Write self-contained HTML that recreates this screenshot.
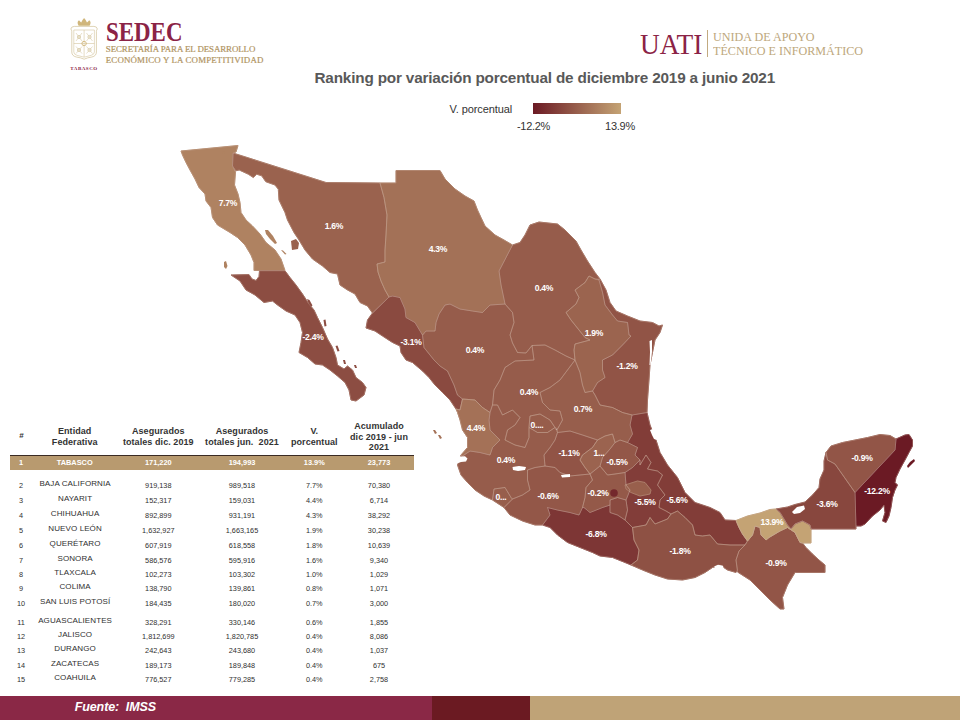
<!DOCTYPE html>
<html lang="es"><head><meta charset="utf-8"><title>Ranking por variación porcentual</title>
<style>
html,body{margin:0;padding:0;background:#fff;}
body{width:960px;height:720px;position:relative;overflow:hidden;font-family:"Liberation Sans",sans-serif;}
.map{position:absolute;left:0;top:0;}
.title{position:absolute;left:314.5px;top:68.7px;font-weight:bold;font-size:15.3px;line-height:18px;color:#595959;white-space:nowrap;letter-spacing:-0.18px;}
.c{position:absolute;width:120px;text-align:center;white-space:nowrap;color:#303030;font-size:7.3px;line-height:12px;height:12px;}
.c.h{font-weight:bold;font-size:9px;color:#333;line-height:10.3px;letter-spacing:0.07px;}
.c.h2{margin-top:-4.6px;}
.c.hh{font-size:8px;}
.c.h3{margin-top:-10.6px;line-height:10.6px;}
.c.g{color:#fff;font-weight:bold;font-size:7.4px;}
.c.nm{font-size:8px;letter-spacing:0.1px;}
.hl{position:absolute;left:10px;top:454.5px;width:404px;height:1.2px;background:#3a2a22;}
.gold{position:absolute;left:10px;top:455.7px;width:404px;height:14px;background:#b89a6f;}
.foot{position:absolute;left:0;top:696px;height:24px;}
.f1{width:432px;background:#8a2846;}
.f2{left:432px;width:98px;background:#6b1a22;}
.f3{left:530px;width:430px;background:#bfa377;}
.fuente{position:absolute;left:74.7px;top:699px;color:#fff;font-weight:bold;font-style:italic;font-size:12.5px;line-height:16px;white-space:pre;letter-spacing:-0.1px;}
.sedec{position:absolute;left:105.8px;top:16.5px;font-family:"Liberation Serif",serif;font-weight:bold;font-size:27px;line-height:30px;color:#8b2346;transform:scaleX(0.849);transform-origin:0 0;}
.sedsub{position:absolute;left:105.8px;top:43.6px;font-family:"Liberation Serif",serif;font-size:8.9px;line-height:11.1px;color:#b0945f;-webkit-text-stroke:0.2px #b0945f;white-space:nowrap;}
.sedsub .a{letter-spacing:-0.078px;} .sedsub .b{letter-spacing:0.148px;}
.tab{position:absolute;left:70.3px;top:65.7px;font-family:"Liberation Serif",serif;font-weight:bold;font-size:5px;line-height:6px;color:#8b2346;letter-spacing:0.51px;white-space:nowrap;}
.uati{position:absolute;left:640.4px;top:27.35px;font-family:"Liberation Serif",serif;font-size:29.5px;line-height:34px;color:#8b2346;white-space:nowrap;transform:scaleX(0.928);transform-origin:0 0;}
.uline{position:absolute;left:707px;top:29.8px;width:1px;height:27.5px;background:#c2aa80;}
.usub{position:absolute;left:713.3px;top:29.86px;font-family:"Liberation Serif",serif;font-size:13.3px;line-height:14.3px;color:#bda77c;white-space:nowrap;transform:scaleX(0.911);transform-origin:0 0;}
</style></head><body>
<svg class="map" width="960" height="720" viewBox="0 0 960 720">
<defs><linearGradient id="lg" x1="0" x2="1" y1="0" y2="0"><stop offset="0" stop-color="#6b1a24"/><stop offset="1" stop-color="#c4a374"/></linearGradient></defs>
<g stroke-linejoin="round">
<polygon points="181,151 238,145.5 236,152 233,153 232.5,166 235.5,172 234.5,185 238,194 240,202.5 241,212.5 246,220 252.5,226 260,234 266,242.5 275,250 281,259 285,270.5 254,270.5 254,262.5 251,255 245,245 237.5,237.5 230,232.5 217.5,225 212.5,217.5 211,207.5 206,201 205,194 199,187.5 195,179 190,170 186,162.5 182.5,155" fill="#af8261" stroke="#af8261" stroke-width="1"/>
<polygon points="233,153 326,182.5 380,183 384,197.5 387,215 386,235 385,250 385,262 377,264 378,272 381,281 385,290 389,297 372.5,313 367.5,306 360,302.5 355,294 347.5,290 340,285 337.5,274 330,272.5 322.5,266 312.5,259 305,250 299,240 294,232.5 287.5,220 285,212.5 279,200 278.3,189.2 275,185 265.8,181.7 261.7,175.8 256.7,174.2 253.3,177.5 248.3,174.2 239.2,170 235.8,170.8 232.5,166" fill="#9a624e" stroke="#9a624e" stroke-width="1"/>
<polygon points="396,170.5 440,170.5 445,179 455,189 465,196 474,201 477.5,210 481,217.5 485,226 495,235 504,240 512.5,245 506,257.5 499,271 501,285 505,304 490,305 482.5,312.5 472.5,311 460,309 450,304 445,305 439,314 436,322.5 435,331 426,331 422.5,335 415,322.5 406,317.5 405,309 400,297.5 392.5,296 389,297 385,290 381,281 378,272 377,264 385,262 385,250 386,235 387,215 384,197.5 380,183 396,183" fill="#a37157" stroke="#a37157" stroke-width="1"/>
<polygon points="512.5,245 520,242.5 525,235 530,225 539,222 557.5,224 565,230 576,241 581,250 587.5,261 595,272.5 600,279 595,279 589,276 585,282.5 575,290 579,297.5 576,304 566,312.5 571,320 579,330 585,337.5 590,340 575,344 574,350 575,360 566,356 555,350 545,345 532,345.5 526,353 517.5,352.5 512.5,343 510,335 514,322.5 512.5,312.5 505,304 501,285 499,271 506,257.5" fill="#965c4b" stroke="#965c4b" stroke-width="1"/>
<polygon points="589,276 595,279 599,280 602.5,292.5 605,305 612.5,315 617.5,321 627.5,322.5 629,335 631,336 622.5,345 612.5,355 602.5,360 602.5,370 605,377.5 597.5,382.5 592.5,391 585,392.5 582.5,385 580,372.5 575,360 574,350 575,344 590,340 585,337.5 579,330 571,320 566,312.5 576,304 579,297.5 575,290 585,282.5" fill="#9b644f" stroke="#9b644f" stroke-width="1"/>
<polygon points="599,280 600,279 606,290 610,302.5 616,311 627.5,316 640,321 652.5,322.5 659,326 662.5,325 660,332.5 655,340 652.5,352.5 650,365 649,380 647.5,400 647,412.5 632,415 622.5,412.5 612.5,407.5 600,405 595,395 592.5,391 597.5,382.5 605,377.5 602.5,370 602.5,360 612.5,355 622.5,345 631,336 629,335 627.5,322.5 617.5,321 612.5,315 605,305 602.5,292.5" fill="#915446" stroke="#915446" stroke-width="1"/>
<polygon points="575,360 580,372.5 582.5,385 585,392.5 592.5,391 595,395 600,405 612.5,407.5 622.5,412.5 632,415 630,425 632.5,434 627.5,442.5 620,440 615,442.5 612.5,434 605,436 597.5,440 582.5,435 570,431 557.5,432.5 557.5,429 562.5,420 560,411 550,410 542.5,402.5 540,392.5 550,387.5 560,380 567.5,370" fill="#975e4c" stroke="#975e4c" stroke-width="1"/>
<polygon points="534,360 532,345.5 545,345 555,350 566,356 575,360 567.5,370 560,380 550,387.5 540,392.5 542.5,402.5 550,410 560,411 562.5,420 557.5,429 555,427.5 550,420 540,414 530,416 529,427.5 529,437.5 525,447.5 515,445 505,440 507.5,430 515,425 520,417.5 512.5,410 502.5,415 497.5,405 492.5,405 494,390 500,380 505,367.5 515,361" fill="#965c4b" stroke="#965c4b" stroke-width="1"/>
<polygon points="422.5,335 426,331 435,331 436,322.5 439,314 445,305 450,304 460,309 472.5,311 482.5,312.5 490,305 505,304 512.5,312.5 514,322.5 510,335 512.5,343 517.5,352.5 526,353 532,345.5 534,360 515,361 505,367.5 500,380 494,390 492.5,405 490,412.5 482.5,407.5 475,400 462.5,399 457.5,395 454,385 447.5,371 440,366 434,360 424,347.5" fill="#965c4b" stroke="#965c4b" stroke-width="1"/>
<polygon points="372.5,313 389,297 392.5,296 400,297.5 405,309 406,317.5 415,322.5 422.5,335 424,347.5 434,360 440,366 447.5,371 454,385 457.5,395 462.5,399 460,410 456,409 450,400 442.5,392.5 435,385 429,377.5 422.5,371 412.5,362.5 406,360 401,352.5 400,346 392.5,342.5 382.5,336 375,331 366,328 367.5,320" fill="#8a4a40" stroke="#8a4a40" stroke-width="1"/>
<polygon points="456,409 460,410 462.5,399 475,400 482.5,407.5 490,412.5 489,420 490,430 495,435 500,440 492.5,447.5 490,455 480,452.5 470,451 462.5,456 461,455 467.5,447.5 467.5,437.5 462.5,430 460,420 457.5,412.5" fill="#a47157" stroke="#a47157" stroke-width="1"/>
<polygon points="461,455 462.5,456 470,451 480,452.5 490,455 492.5,447.5 500,440 495,435 490,430 489,420 490,412.5 492.5,405 497.5,405 502.5,415 512.5,410 520,417.5 515,425 507.5,430 505,440 515,445 525,447.5 529,437.5 529,427.5 537.5,432.5 547.5,432.5 555,427.5 557.5,432.5 555,440 550,447.5 544,455 545,466 535,467.5 527.5,470 527.5,480 530,490 522.5,495 512.5,499 511,497.5 505,487.5 494,489 492.5,500 484,496 475,490 467.5,482.5 461,475 457.5,465" fill="#965c4b" stroke="#965c4b" stroke-width="1"/>
<polygon points="530,416 540,414 550,420 555,427.5 547.5,432.5 537.5,432.5 529,427.5" fill="#975d4b" stroke="#975d4b" stroke-width="1"/>
<polygon points="492.5,500 494,489 505,487.5 511,497.5 512.5,499 504,507.5" fill="#975e4c" stroke="#975e4c" stroke-width="1"/>
<polygon points="504,507.5 512.5,499 522.5,495 530,490 527.5,480 527.5,470 535,467.5 545,466 555,467.5 560,472.5 570,476 580,475 590,474 592.5,480 586,487.5 585,497.5 582.5,507.5 579,515 570,512.5 557.5,510 547.5,507.5 550,515 542.5,525 535,525 522.5,521 510,515" fill="#935748" stroke="#935748" stroke-width="1"/>
<polygon points="557.5,432.5 570,431 582.5,435 597.5,440 592.5,447.5 582.5,455 580,460 585,467.5 590,474 580,475 570,476 560,472.5 555,467.5 545,466 544,455 550,447.5 555,440" fill="#915446" stroke="#915446" stroke-width="1"/>
<polygon points="597.5,440 605,436 612.5,434 615,442.5 610,449 602.5,457.5 600,466 590,474 585,467.5 580,460 582.5,455 592.5,447.5" fill="#9b634f" stroke="#9b634f" stroke-width="1"/>
<polygon points="615,442.5 620,440 627.5,442.5 632.5,445 637.5,447.5 635,455 640,460 632.5,467.5 625,472.5 615,474 607.5,475 600,466 602.5,457.5 610,449" fill="#935748" stroke="#935748" stroke-width="1"/>
<polygon points="590,474 600,466 607.5,475 615,474 625,472.5 626,485 630,490 626,500 617.5,497.5 610,500 610,505 602.5,507.5 590,512.5 584,507.5 582.5,507.5 585,497.5 586,487.5 592.5,480" fill="#945949" stroke="#945949" stroke-width="1"/>
<polygon points="610,500 617.5,497.5 626,500 627.5,510 625,520 617.5,515 610,512.5 610,505" fill="#8a4a40" stroke="#8a4a40" stroke-width="1"/>
<polygon points="632.5,467.5 640,460 640,465 646,455 651,462.5 647.5,469 657.5,471 662.5,475 657.5,485 665,495 660,500 659,507.5 666,511 671,514 667.5,519 655,524 650,517.5 646,525 632.5,527.5 625,520 627.5,510 626,500 630,490 626,485 625,472.5" fill="#823d39" stroke="#823d39" stroke-width="1"/>
<polygon points="625,485 637.5,481 645,482.5 651,490 650,494 640,496 631,492.5 626,489" fill="#985f4c" stroke="#985f4c" stroke-width="1"/>
<polygon points="632,415 647,412.5 650,425 656,440 660,452.5 667.5,465 677.5,477.5 685,492.5 695,502.5 710,507.5 720,512.5 725,520 736,520.5 739,527.5 742.5,534 747.5,541 745,545 730,545 717.5,544 710,535 702.5,536 695,535 692.5,525 685,517.5 677.5,511 671,514 666,511 659,507.5 660,500 665,495 657.5,485 662.5,475 657.5,471 647.5,469 651,462.5 646,455 640,465 640,460 635,455 637.5,447.5 632.5,445 627.5,442.5 632.5,434 630,425" fill="#823d38" stroke="#823d38" stroke-width="1"/>
<polygon points="542.5,525 550,515 547.5,507.5 557.5,510 570,512.5 579,515 582.5,507.5 584,507.5 590,512.5 602.5,507.5 610,505 610,512.5 617.5,515 625,520 632.5,527.5 634,540 639,550 637.5,560 631,565 625,562.5 612.5,557.5 600,556 592.5,552.5 580,547.5 567.5,542.5 557.5,535 550,527.5" fill="#7d3635" stroke="#7d3635" stroke-width="1"/>
<polygon points="632.5,527.5 646,525 650,517.5 655,524 667.5,519 671,514 677.5,511 685,517.5 692.5,525 695,535 702.5,536 710,535 717.5,544 730,545 745,545 739,551 736,560 737.5,570 736,572.5 727.5,570 720,565 712.5,567.5 705,572.5 695,577.5 682.5,580 667.5,579 655,575 642.5,570 631,565 637.5,560 639,550 634,540" fill="#8e5144" stroke="#8e5144" stroke-width="1"/>
<polygon points="745,545 747.5,541 752.5,535 755,526 760,527.5 761,535 766,540 769,537.5 780,531 787.5,527.5 795,532.5 800,542.5 802.5,543 806,547.5 812.5,554 819,560 825,565 825,572.5 795,572.5 787.5,585 782.5,597.5 784,609 780,609 770,600 760,590 750,580 737.5,572 736,560 739,551" fill="#925547" stroke="#925547" stroke-width="1"/>
<polygon points="736,520.5 747.5,516 760,513 770,509.5 776,509 780,512.5 784,519 787.5,525 791,529 795,524 802.5,521 810,525 811,529 811,543 802.5,543 800,542.5 795,532.5 787.5,527.5 780,531 769,537.5 766,540 761,535 760,527.5 755,526 752.5,535 747.5,541 742.5,534 739,527.5" fill="#c4a374" stroke="#c4a374" stroke-width="1"/>
<polygon points="776,509 787.5,507 795,504.5 805,502 812.5,495 819,487.5 820,479 824,470 824,461 826,452.5 827.5,460 835,464 855,492.5 856,529 811,529 810,525 802.5,521 795,524 791,529 787.5,525 784,519 780,512.5" fill="#88473e" stroke="#88473e" stroke-width="1"/>
<polygon points="826,452.5 831,446 842.5,442.5 855,440 867.5,437.5 880,434.5 890,435.5 896,439 895,450 855,492.5 835,464 827.5,460" fill="#925547" stroke="#925547" stroke-width="1"/>
<polygon points="896,439 905,435 909,434.5 912.5,440 912.5,446 909,452.5 905,460 900,469 896,477.5 895,482.5 897.5,485 895,490 892.5,497.5 891,507.5 889,516 886,522.5 882.5,521 885,512.5 884,505 880,510 872.5,516 865,524 861,526 856,526 855,492.5 895,450" fill="#6b1a24" stroke="#6b1a24" stroke-width="1"/>
<polygon points="231,275 240,281 246,290 255,295 264,302.5 272.5,301 277.5,305 286,311 295,315 300,322.5 302.5,332.5 301,342.5 299,352.5 307.5,357.5 315,364 322.5,365 330,370 337.5,376 345,382.5 349,390 351,400 356,401 364,395 366,387.5 362.5,382.5 356,377.5 352.5,370 347.5,366 344,369 337.5,365 336,357.5 332.5,347.5 327.5,339 322.5,327.5 317.5,317.5 314,310 309,304 302.5,294 296,285 290,277.5 285,270.8 259.5,270.8 259,276.5 256,280.5 252,279 249,274.6" fill="#8c4d42" stroke="#8c4d42" stroke-width="1"/>
</g>
<g fill="none" stroke="#c9a898" stroke-opacity="0.55" stroke-width="0.7" stroke-linejoin="round">
<polygon points="181,151 238,145.5 236,152 233,153 232.5,166 235.5,172 234.5,185 238,194 240,202.5 241,212.5 246,220 252.5,226 260,234 266,242.5 275,250 281,259 285,270.5 254,270.5 254,262.5 251,255 245,245 237.5,237.5 230,232.5 217.5,225 212.5,217.5 211,207.5 206,201 205,194 199,187.5 195,179 190,170 186,162.5 182.5,155"/>
<polygon points="233,153 326,182.5 380,183 384,197.5 387,215 386,235 385,250 385,262 377,264 378,272 381,281 385,290 389,297 372.5,313 367.5,306 360,302.5 355,294 347.5,290 340,285 337.5,274 330,272.5 322.5,266 312.5,259 305,250 299,240 294,232.5 287.5,220 285,212.5 279,200 278.3,189.2 275,185 265.8,181.7 261.7,175.8 256.7,174.2 253.3,177.5 248.3,174.2 239.2,170 235.8,170.8 232.5,166"/>
<polygon points="396,170.5 440,170.5 445,179 455,189 465,196 474,201 477.5,210 481,217.5 485,226 495,235 504,240 512.5,245 506,257.5 499,271 501,285 505,304 490,305 482.5,312.5 472.5,311 460,309 450,304 445,305 439,314 436,322.5 435,331 426,331 422.5,335 415,322.5 406,317.5 405,309 400,297.5 392.5,296 389,297 385,290 381,281 378,272 377,264 385,262 385,250 386,235 387,215 384,197.5 380,183 396,183"/>
<polygon points="512.5,245 520,242.5 525,235 530,225 539,222 557.5,224 565,230 576,241 581,250 587.5,261 595,272.5 600,279 595,279 589,276 585,282.5 575,290 579,297.5 576,304 566,312.5 571,320 579,330 585,337.5 590,340 575,344 574,350 575,360 566,356 555,350 545,345 532,345.5 526,353 517.5,352.5 512.5,343 510,335 514,322.5 512.5,312.5 505,304 501,285 499,271 506,257.5"/>
<polygon points="589,276 595,279 599,280 602.5,292.5 605,305 612.5,315 617.5,321 627.5,322.5 629,335 631,336 622.5,345 612.5,355 602.5,360 602.5,370 605,377.5 597.5,382.5 592.5,391 585,392.5 582.5,385 580,372.5 575,360 574,350 575,344 590,340 585,337.5 579,330 571,320 566,312.5 576,304 579,297.5 575,290 585,282.5"/>
<polygon points="599,280 600,279 606,290 610,302.5 616,311 627.5,316 640,321 652.5,322.5 659,326 662.5,325 660,332.5 655,340 652.5,352.5 650,365 649,380 647.5,400 647,412.5 632,415 622.5,412.5 612.5,407.5 600,405 595,395 592.5,391 597.5,382.5 605,377.5 602.5,370 602.5,360 612.5,355 622.5,345 631,336 629,335 627.5,322.5 617.5,321 612.5,315 605,305 602.5,292.5"/>
<polygon points="575,360 580,372.5 582.5,385 585,392.5 592.5,391 595,395 600,405 612.5,407.5 622.5,412.5 632,415 630,425 632.5,434 627.5,442.5 620,440 615,442.5 612.5,434 605,436 597.5,440 582.5,435 570,431 557.5,432.5 557.5,429 562.5,420 560,411 550,410 542.5,402.5 540,392.5 550,387.5 560,380 567.5,370"/>
<polygon points="534,360 532,345.5 545,345 555,350 566,356 575,360 567.5,370 560,380 550,387.5 540,392.5 542.5,402.5 550,410 560,411 562.5,420 557.5,429 555,427.5 550,420 540,414 530,416 529,427.5 529,437.5 525,447.5 515,445 505,440 507.5,430 515,425 520,417.5 512.5,410 502.5,415 497.5,405 492.5,405 494,390 500,380 505,367.5 515,361"/>
<polygon points="422.5,335 426,331 435,331 436,322.5 439,314 445,305 450,304 460,309 472.5,311 482.5,312.5 490,305 505,304 512.5,312.5 514,322.5 510,335 512.5,343 517.5,352.5 526,353 532,345.5 534,360 515,361 505,367.5 500,380 494,390 492.5,405 490,412.5 482.5,407.5 475,400 462.5,399 457.5,395 454,385 447.5,371 440,366 434,360 424,347.5"/>
<polygon points="372.5,313 389,297 392.5,296 400,297.5 405,309 406,317.5 415,322.5 422.5,335 424,347.5 434,360 440,366 447.5,371 454,385 457.5,395 462.5,399 460,410 456,409 450,400 442.5,392.5 435,385 429,377.5 422.5,371 412.5,362.5 406,360 401,352.5 400,346 392.5,342.5 382.5,336 375,331 366,328 367.5,320"/>
<polygon points="456,409 460,410 462.5,399 475,400 482.5,407.5 490,412.5 489,420 490,430 495,435 500,440 492.5,447.5 490,455 480,452.5 470,451 462.5,456 461,455 467.5,447.5 467.5,437.5 462.5,430 460,420 457.5,412.5"/>
<polygon points="461,455 462.5,456 470,451 480,452.5 490,455 492.5,447.5 500,440 495,435 490,430 489,420 490,412.5 492.5,405 497.5,405 502.5,415 512.5,410 520,417.5 515,425 507.5,430 505,440 515,445 525,447.5 529,437.5 529,427.5 537.5,432.5 547.5,432.5 555,427.5 557.5,432.5 555,440 550,447.5 544,455 545,466 535,467.5 527.5,470 527.5,480 530,490 522.5,495 512.5,499 511,497.5 505,487.5 494,489 492.5,500 484,496 475,490 467.5,482.5 461,475 457.5,465"/>
<polygon points="530,416 540,414 550,420 555,427.5 547.5,432.5 537.5,432.5 529,427.5"/>
<polygon points="492.5,500 494,489 505,487.5 511,497.5 512.5,499 504,507.5"/>
<polygon points="504,507.5 512.5,499 522.5,495 530,490 527.5,480 527.5,470 535,467.5 545,466 555,467.5 560,472.5 570,476 580,475 590,474 592.5,480 586,487.5 585,497.5 582.5,507.5 579,515 570,512.5 557.5,510 547.5,507.5 550,515 542.5,525 535,525 522.5,521 510,515"/>
<polygon points="557.5,432.5 570,431 582.5,435 597.5,440 592.5,447.5 582.5,455 580,460 585,467.5 590,474 580,475 570,476 560,472.5 555,467.5 545,466 544,455 550,447.5 555,440"/>
<polygon points="597.5,440 605,436 612.5,434 615,442.5 610,449 602.5,457.5 600,466 590,474 585,467.5 580,460 582.5,455 592.5,447.5"/>
<polygon points="615,442.5 620,440 627.5,442.5 632.5,445 637.5,447.5 635,455 640,460 632.5,467.5 625,472.5 615,474 607.5,475 600,466 602.5,457.5 610,449"/>
<polygon points="590,474 600,466 607.5,475 615,474 625,472.5 626,485 630,490 626,500 617.5,497.5 610,500 610,505 602.5,507.5 590,512.5 584,507.5 582.5,507.5 585,497.5 586,487.5 592.5,480"/>
<polygon points="610,500 617.5,497.5 626,500 627.5,510 625,520 617.5,515 610,512.5 610,505"/>
<polygon points="632.5,467.5 640,460 640,465 646,455 651,462.5 647.5,469 657.5,471 662.5,475 657.5,485 665,495 660,500 659,507.5 666,511 671,514 667.5,519 655,524 650,517.5 646,525 632.5,527.5 625,520 627.5,510 626,500 630,490 626,485 625,472.5"/>
<polygon points="625,485 637.5,481 645,482.5 651,490 650,494 640,496 631,492.5 626,489"/>
<polygon points="632,415 647,412.5 650,425 656,440 660,452.5 667.5,465 677.5,477.5 685,492.5 695,502.5 710,507.5 720,512.5 725,520 736,520.5 739,527.5 742.5,534 747.5,541 745,545 730,545 717.5,544 710,535 702.5,536 695,535 692.5,525 685,517.5 677.5,511 671,514 666,511 659,507.5 660,500 665,495 657.5,485 662.5,475 657.5,471 647.5,469 651,462.5 646,455 640,465 640,460 635,455 637.5,447.5 632.5,445 627.5,442.5 632.5,434 630,425"/>
<polygon points="542.5,525 550,515 547.5,507.5 557.5,510 570,512.5 579,515 582.5,507.5 584,507.5 590,512.5 602.5,507.5 610,505 610,512.5 617.5,515 625,520 632.5,527.5 634,540 639,550 637.5,560 631,565 625,562.5 612.5,557.5 600,556 592.5,552.5 580,547.5 567.5,542.5 557.5,535 550,527.5"/>
<polygon points="632.5,527.5 646,525 650,517.5 655,524 667.5,519 671,514 677.5,511 685,517.5 692.5,525 695,535 702.5,536 710,535 717.5,544 730,545 745,545 739,551 736,560 737.5,570 736,572.5 727.5,570 720,565 712.5,567.5 705,572.5 695,577.5 682.5,580 667.5,579 655,575 642.5,570 631,565 637.5,560 639,550 634,540"/>
<polygon points="745,545 747.5,541 752.5,535 755,526 760,527.5 761,535 766,540 769,537.5 780,531 787.5,527.5 795,532.5 800,542.5 802.5,543 806,547.5 812.5,554 819,560 825,565 825,572.5 795,572.5 787.5,585 782.5,597.5 784,609 780,609 770,600 760,590 750,580 737.5,572 736,560 739,551"/>
<polygon points="736,520.5 747.5,516 760,513 770,509.5 776,509 780,512.5 784,519 787.5,525 791,529 795,524 802.5,521 810,525 811,529 811,543 802.5,543 800,542.5 795,532.5 787.5,527.5 780,531 769,537.5 766,540 761,535 760,527.5 755,526 752.5,535 747.5,541 742.5,534 739,527.5"/>
<polygon points="776,509 787.5,507 795,504.5 805,502 812.5,495 819,487.5 820,479 824,470 824,461 826,452.5 827.5,460 835,464 855,492.5 856,529 811,529 810,525 802.5,521 795,524 791,529 787.5,525 784,519 780,512.5"/>
<polygon points="826,452.5 831,446 842.5,442.5 855,440 867.5,437.5 880,434.5 890,435.5 896,439 895,450 855,492.5 835,464 827.5,460"/>
<polygon points="896,439 905,435 909,434.5 912.5,440 912.5,446 909,452.5 905,460 900,469 896,477.5 895,482.5 897.5,485 895,490 892.5,497.5 891,507.5 889,516 886,522.5 882.5,521 885,512.5 884,505 880,510 872.5,516 865,524 861,526 856,526 855,492.5 895,450"/>
<polygon points="231,275 240,281 246,290 255,295 264,302.5 272.5,301 277.5,305 286,311 295,315 300,322.5 302.5,332.5 301,342.5 299,352.5 307.5,357.5 315,364 322.5,365 330,370 337.5,376 345,382.5 349,390 351,400 356,401 364,395 366,387.5 362.5,382.5 356,377.5 352.5,370 347.5,366 344,369 337.5,365 336,357.5 332.5,347.5 327.5,339 322.5,327.5 317.5,317.5 314,310 309,304 302.5,294 296,285 290,277.5 285,270.8 259.5,270.8 259,276.5 256,280.5 252,279 249,274.6"/>
</g>
<polygon points="714,566.5 718,564.8 723,565.8 723.5,568 718,568.6" fill="#ffffff"/>
<polygon points="307,299 309.5,300 312.5,305.5 311,306.5 308.5,303" fill="#8c4d42"/>
<polygon points="323.5,320 325.5,319.5 326.5,326 324.5,326.5" fill="#8c4d42"/>
<polygon points="335.5,346 337.5,345.5 339.5,351 337.5,351.5" fill="#8c4d42"/>
<polygon points="281,250 283,250.5 286.5,254 285,254.5" fill="#af8261"/>
<polygon points="222.5,152 224,151.5 224.5,153.5 223,154" fill="#af8261"/>
<polygon points="291,241 296,239 299,243 298,249 292,250" fill="#9a624e"/>
<polygon points="265,230 268,230 273,236 277,243 275,244 270,239 266,234" fill="#af8261"/>
<polygon points="224,262 226,261 227.5,266 226,269 224,267" fill="#af8261"/>
<polygon points="343,360 345,360 346,364 344,364" fill="#8c4d42"/>
<polygon points="354,365 356,365 357,368 355,368" fill="#8c4d42"/>
<polygon points="433,430 435,430 437,433 435,434" fill="#a47157"/>
<polygon points="438,435 440,435 442,438 440,439" fill="#a47157"/>
<polygon points="907,466 910,462 914,459 915,461 911,465 908,468" fill="#6b1a24"/>
<polygon points="792,512 797,507 804,505.5 805,509 800,513 794,514" fill="#ffffff"/>
<polygon points="512.5,467 519,466 526,467 525,470 518,471 513,470" fill="#ffffff"/>
<polygon points="561,475 570,474 570,477 562,477.5" fill="#ffffff"/>
<polygon points="455,455.8 461,456.6 465,456.3 467.5,458.5 466,461.5 461,462 456.5,463.8 454,460" fill="#ffffff"/>
<polygon points="650,430 653,429 656,434 657,440 654,439 652,435" fill="#ffffff"/>
<polygon points="649.5,341 652,340 652,352 650.5,365 649.5,365 650,352" fill="#ffffff"/>
<circle cx="614" cy="493" r="3.8" fill="#74282c"/>
<g font-family="'Liberation Sans',sans-serif" font-size="8.6" font-weight="bold" fill="#fff" text-anchor="middle" letter-spacing="-0.28">
<text x="228" y="206.1">7.7%</text>
<text x="334" y="229.1">1.6%</text>
<text x="438" y="252.1">4.3%</text>
<text x="544" y="291.1">0.4%</text>
<text x="594" y="336.1">1.9%</text>
<text x="627" y="369.1">-1.2%</text>
<text x="313" y="340.1">-2.4%</text>
<text x="411" y="345.1">-3.1%</text>
<text x="475" y="353.1">0.4%</text>
<text x="529" y="395.1">0.4%</text>
<text x="583" y="412.1">0.7%</text>
<text x="476" y="431.1">4.4%</text>
<text x="537" y="428.1">0....</text>
<text x="569" y="456.1">-1.1%</text>
<text x="599" y="456.1">1...</text>
<text x="617" y="465.1">-0.5%</text>
<text x="506" y="463.1">0.4%</text>
<text x="501" y="500.1">0...</text>
<text x="548" y="499.1">-0.6%</text>
<text x="598" y="496.1">-0.2%</text>
<text x="645" y="505.1">-5.5%</text>
<text x="677" y="503.1">-5.6%</text>
<text x="596" y="537.1">-6.8%</text>
<text x="680" y="554.1">-1.8%</text>
<text x="776" y="566.1">-0.9%</text>
<text x="772" y="525.1">13.9%</text>
<text x="827" y="507.1">-3.6%</text>
<text x="862" y="461.1">-0.9%</text>
<text x="877" y="494.1">-12.2%</text>
</g>
<rect x="533" y="103" width="88" height="11" fill="url(#lg)"/>
<g font-family="'Liberation Sans',sans-serif" font-size="11" fill="#333">
<text x="449.5" y="113" letter-spacing="-0.1">V. porcentual</text>
<text x="517" y="130" letter-spacing="-0.3">-12.2%</text>
<text x="605" y="130" letter-spacing="-0.24">13.9%</text>
</g>
</svg>
<svg class="map" width="960" height="720" viewBox="0 0 960 720">
<g fill="#ccb070" stroke="none" opacity="0.92">
<path d="M78.600,25.800 q-2.200,-3.800 0.400,-5.600 q1.200,1.400 2.200,2.200 q1.200,-2.600 2.900,-4.400 q1.700,1.800 2.900,4.400 q1,-0.800 2.200,-2.200 q2.600,1.800 0.400,5.600 z"/>
</g>
<g fill="none" stroke="#d3c49c" stroke-width="0.75">
<path d="M70.800,29 q0.500,-2.600 3.500,-2.600 h19.600 q3,0 3.500,2.600 q-1,1 -1,2.500 v20.500 q0,4 -4.500,5 q-4.500,0.600 -7.800,2.200 q-3.300,-1.600 -7.800,-2.200 q-4.500,-1 -4.500,-5 v-20.500 q0,-1.500 -1,-2.500 z"/>
<path d="M73.800,30 h20.600 v22 q0,2.600 -3.400,3.400 l-6.900,1.800 l-6.900,-1.800 q-3.400,-0.800 -3.400,-3.400 z" stroke-width="0.6"/>
<path d="M84.100,30 v27 M73.800,43.500 h20.600" stroke-width="0.6"/>
<path d="M76,33 l6,8 M82,33 l-6,8 M86.500,33 l6,8 M92.500,33 l-6,8 M76,46.500 l6,7 M82,46.500 l-6,7 M86.500,46.500 l6,7 M92.500,46.500 l-6,7" stroke-width="0.55"/>
<circle cx="79" cy="37" r="1.600"/><circle cx="89.500" cy="37" r="1.600"/><circle cx="79" cy="50" r="1.600"/><circle cx="89.500" cy="50" r="1.600"/>
<circle cx="84.100" cy="43.500" r="2.200" stroke="#c9ab66"/>
</g></svg>
<div class="sedec">SEDEC</div>
<div class="sedsub"><span class="a">SECRETARÍA PARA EL DESARROLLO</span><br><span class="b">ECONÓMICO Y LA COMPETITIVIDAD</span></div>
<div class="tab">TABASCO</div>
<div class="uati">UATI</div><div class="uline"></div>
<div class="usub">UNIDA DE APOYO<br>TÉCNICO E INFORMÁTICO</div>
<div class="title">Ranking por variación porcentual de diciembre 2019 a junio 2021</div>
<div class="c h hh" style="left:-38.5px;top:431.3px">#</div>
<div class="c h h2" style="left:14.7px;top:431px">Entidad<br>Federativa</div>
<div class="c h h2" style="left:98.3px;top:431px">Asegurados<br>totales dic. 2019</div>
<div class="c h h2" style="left:182px;top:431px">Asegurados<br>totales jun.&nbsp; 2021</div>
<div class="c h h2" style="left:254.3px;top:431px">V.<br>porcentual</div>
<div class="c h h3" style="left:319px;top:431.6px">Acumulado<br>dic 2019 - jun<br>2021</div>
<div class="hl"></div><div class="gold"></div>
<div class="c g" style="left:-39px;top:456.5px">1</div>
<div class="c g" style="left:14.7px;top:456.5px">TABASCO</div>
<div class="c g" style="left:98.3px;top:456.5px">171,220</div>
<div class="c g" style="left:182px;top:456.5px">194,993</div>
<div class="c g" style="left:254.3px;top:456.5px">13.9%</div>
<div class="c g" style="left:319px;top:456.5px">23,773</div>
<div class="c n" style="left:-39px;top:480.1px">2</div>
<div class="c nm" style="left:15.1px;top:477.9px">BAJA CALIFORNIA</div>
<div class="c n" style="left:98.3px;top:479.9px">919,138</div>
<div class="c n" style="left:182px;top:479.9px">989,518</div>
<div class="c n" style="left:254.3px;top:479.9px">7.7%</div>
<div class="c n" style="left:319px;top:479.9px">70,380</div>
<div class="c n" style="left:-39px;top:495.3px">3</div>
<div class="c nm" style="left:15.1px;top:493.1px">NAYARIT</div>
<div class="c n" style="left:98.3px;top:495.1px">152,317</div>
<div class="c n" style="left:182px;top:495.1px">159,031</div>
<div class="c n" style="left:254.3px;top:495.1px">4.4%</div>
<div class="c n" style="left:319px;top:495.1px">6,714</div>
<div class="c n" style="left:-39px;top:510.4px">4</div>
<div class="c nm" style="left:15.1px;top:508.2px">CHIHUAHUA</div>
<div class="c n" style="left:98.3px;top:510.2px">892,899</div>
<div class="c n" style="left:182px;top:510.2px">931,191</div>
<div class="c n" style="left:254.3px;top:510.2px">4.3%</div>
<div class="c n" style="left:319px;top:510.2px">38,292</div>
<div class="c n" style="left:-39px;top:525.2px">5</div>
<div class="c nm" style="left:15.1px;top:523px">NUEVO LEÓN</div>
<div class="c n" style="left:98.3px;top:525px">1,632,927</div>
<div class="c n" style="left:182px;top:525px">1,663,165</div>
<div class="c n" style="left:254.3px;top:525px">1.9%</div>
<div class="c n" style="left:319px;top:525px">30,238</div>
<div class="c n" style="left:-39px;top:540.1px">6</div>
<div class="c nm" style="left:15.1px;top:537.9px">QUERÉTARO</div>
<div class="c n" style="left:98.3px;top:539.9px">607,919</div>
<div class="c n" style="left:182px;top:539.9px">618,558</div>
<div class="c n" style="left:254.3px;top:539.9px">1.8%</div>
<div class="c n" style="left:319px;top:539.9px">10,639</div>
<div class="c n" style="left:-39px;top:555.3px">7</div>
<div class="c nm" style="left:15.1px;top:553.1px">SONORA</div>
<div class="c n" style="left:98.3px;top:555.1px">586,576</div>
<div class="c n" style="left:182px;top:555.1px">595,916</div>
<div class="c n" style="left:254.3px;top:555.1px">1.6%</div>
<div class="c n" style="left:319px;top:555.1px">9,340</div>
<div class="c n" style="left:-39px;top:569.2px">8</div>
<div class="c nm" style="left:15.1px;top:567px">TLAXCALA</div>
<div class="c n" style="left:98.3px;top:569px">102,273</div>
<div class="c n" style="left:182px;top:569px">103,302</div>
<div class="c n" style="left:254.3px;top:569px">1.0%</div>
<div class="c n" style="left:319px;top:569px">1,029</div>
<div class="c n" style="left:-39px;top:583.1px">9</div>
<div class="c nm" style="left:15.1px;top:580.9px">COLIMA</div>
<div class="c n" style="left:98.3px;top:582.9px">138,790</div>
<div class="c n" style="left:182px;top:582.9px">139,861</div>
<div class="c n" style="left:254.3px;top:582.9px">0.8%</div>
<div class="c n" style="left:319px;top:582.9px">1,071</div>
<div class="c n" style="left:-39px;top:598.4px">10</div>
<div class="c nm" style="left:15.1px;top:596.2px">SAN LUIS POTOSÍ</div>
<div class="c n" style="left:98.3px;top:598.2px">184,435</div>
<div class="c n" style="left:182px;top:598.2px">180,020</div>
<div class="c n" style="left:254.3px;top:598.2px">0.7%</div>
<div class="c n" style="left:319px;top:598.2px">3,000</div>
<div class="c n" style="left:-39px;top:617.4px">11</div>
<div class="c nm" style="left:15.1px;top:615.2px">AGUASCALIENTES</div>
<div class="c n" style="left:98.3px;top:617.2px">328,291</div>
<div class="c n" style="left:182px;top:617.2px">330,146</div>
<div class="c n" style="left:254.3px;top:617.2px">0.6%</div>
<div class="c n" style="left:319px;top:617.2px">1,855</div>
<div class="c n" style="left:-39px;top:631.2px">12</div>
<div class="c nm" style="left:15.1px;top:629px">JALISCO</div>
<div class="c n" style="left:98.3px;top:631px">1,812,699</div>
<div class="c n" style="left:182px;top:631px">1,820,785</div>
<div class="c n" style="left:254.3px;top:631px">0.4%</div>
<div class="c n" style="left:319px;top:631px">8,086</div>
<div class="c n" style="left:-39px;top:645.1px">13</div>
<div class="c nm" style="left:15.1px;top:642.9px">DURANGO</div>
<div class="c n" style="left:98.3px;top:644.9px">242,643</div>
<div class="c n" style="left:182px;top:644.9px">243,680</div>
<div class="c n" style="left:254.3px;top:644.9px">0.4%</div>
<div class="c n" style="left:319px;top:644.9px">1,037</div>
<div class="c n" style="left:-39px;top:660.3px">14</div>
<div class="c nm" style="left:15.1px;top:658.1px">ZACATECAS</div>
<div class="c n" style="left:98.3px;top:660.1px">189,173</div>
<div class="c n" style="left:182px;top:660.1px">189,848</div>
<div class="c n" style="left:254.3px;top:660.1px">0.4%</div>
<div class="c n" style="left:319px;top:660.1px">675</div>
<div class="c n" style="left:-39px;top:674.2px">15</div>
<div class="c nm" style="left:15.1px;top:672px">COAHUILA</div>
<div class="c n" style="left:98.3px;top:674px">776,527</div>
<div class="c n" style="left:182px;top:674px">779,285</div>
<div class="c n" style="left:254.3px;top:674px">0.4%</div>
<div class="c n" style="left:319px;top:674px">2,758</div>
<div class="foot f1"></div><div class="foot f2"></div><div class="foot f3"></div>
<div class="fuente">Fuente:  IMSS</div>
</body></html>
